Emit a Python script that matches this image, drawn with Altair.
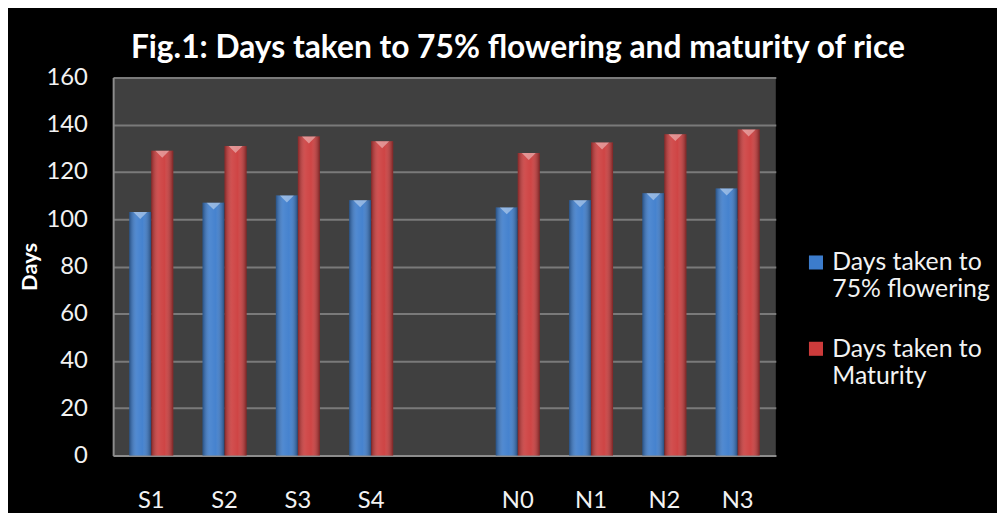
import altair as alt
import pandas as pd

categories = ["S1", "S2", "S3", "S4", "N0", "N1", "N2", "N3"]
axis_order = ["S1", "S2", "S3", "S4", " ", "N0", "N1", "N2", "N3"]
flowering = [103, 107, 110, 108, 105, 108, 111, 113]
maturity = [129, 131, 135, 133, 128, 132.5, 136, 138]
series_names = ["Days taken to 75% flowering", "Days taken to Maturity"]
series_colors = ["#3c7ccc", "#cc3b3b"]
y_ticks = [0, 20, 40, 60, 80, 100, 120, 140, 160]

rows = []
for c, f, m in zip(categories, flowering, maturity):
    rows.append({"cat": c, "series": series_names[0], "days": f})
    rows.append({"cat": c, "series": series_names[1], "days": m})
df = pd.DataFrame(rows)

FONT = "Lato"

x = alt.X(
    "cat:N",
    scale=alt.Scale(domain=axis_order, paddingInner=0.4, paddingOuter=0.22),
    axis=alt.Axis(
        title=None, labelAngle=0, labelFont=FONT, labelFontSize=24,
        labelColor="#f2f2f2", labelPadding=33, ticks=False, tickSize=0,
        domainColor="#8c8c8c", domainWidth=2, grid=False, labelBaseline="top",
    ),
)
y = alt.Y(
    "days:Q",
    scale=alt.Scale(domain=[0, 160], nice=False),
    axis=alt.Axis(
        values=y_ticks, title="Days", titleFont=FONT, titleFontSize=22,
        titleFontWeight="bold", titleColor="white", titlePadding=5,
        labelFont=FONT, labelFontSize=24, labelColor="#f2f2f2",
        labelPadding=26, ticks=False, tickSize=0,
        domainColor="#8c8c8c", domainWidth=2,
        grid=True, gridColor="#7a7a7a", gridWidth=2,
    ),
)
xo = alt.XOffset("series:N", scale=alt.Scale(domain=series_names))

base = alt.Chart(df)

bars = base.mark_bar().encode(
    x=x, y=y, xOffset=xo,
    color=alt.Color(
        "series:N",
        scale=alt.Scale(domain=series_names, range=series_colors),
        legend=alt.Legend(
            title=None, orient="none", legendX=696, legendY=174,
            labelFont=FONT, labelFontSize=25, labelColor="#f2f2f2",
            labelLimit=400, symbolType="square", symbolSize=200,
            symbolStrokeWidth=0, rowPadding=34,
            labelExpr="datum.label == 'Days taken to 75% flowering' ? ['Days taken to', '75% flowering'] : ['Days taken to', 'Maturity']",
        ),
    ),
)

shade = base.mark_bar(
    fill=alt.Gradient(
        gradient="linear", x1=0, x2=1, y1=0, y2=0,
        stops=[
            alt.GradientStop(offset=0, color="rgba(0,0,0,0.35)"),
            alt.GradientStop(offset=0.35, color="rgba(255,255,255,0.10)"),
            alt.GradientStop(offset=0.6, color="rgba(255,255,255,0.05)"),
            alt.GradientStop(offset=1, color="rgba(0,0,0,0.40)"),
        ],
    )
).encode(x=x, y=y, xOffset=xo)

caps = base.mark_point(
    shape="M-1,0L1,0L0,1Z", filled=True, color="white", opacity=0.4, size=196,
    strokeWidth=0,
).encode(x=x, y=y, xOffset=xo)

chart = (
    alt.layer(bars, shade, caps)
    .properties(
        width=668, height=381,
        autosize=alt.AutoSizeParams(type="none"),
        padding={"left": 106, "top": 68, "right": 223, "bottom": 56},
        background="black",
        title=alt.TitleParams(
            "Fig.1: Days taken to 75% flowering and maturity of rice",
            font=FONT, fontSize=32, fontWeight="bold", color="white",
            anchor="middle", dx=74, offset=1,
        ),
    )
    .configure_view(fill="#404040", stroke=None)
)

chart.save("out.html", embed_options={"renderer": "svg", "actions": False})
